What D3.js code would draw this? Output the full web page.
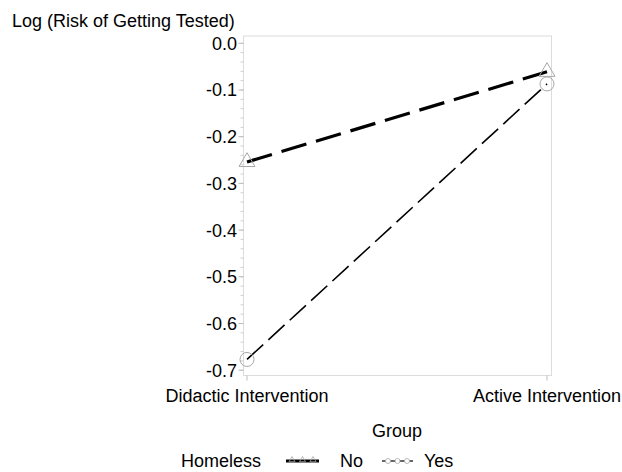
<!DOCTYPE html>
<html>
<head>
<meta charset="utf-8">
<script src="https://cdn.jsdelivr.net/npm/d3@7"></script>
<style>
  html, body { margin: 0; padding: 0; background: #fff; }
  svg { display: block; font-family: "Liberation Sans", Arial, sans-serif; }
</style>
</head>
<body>
<svg id="chart" width="622" height="472"></svg>
<script>
// Group categories on the x axis
const groups = ["Didactic Intervention", "Active Intervention"];
// Log risk of getting tested, by homeless status
const homelessNo = [-0.254, -0.061];
const homelessYes = [-0.677, -0.087];
// Y axis tick labels
const yTicks = [0.0, -0.1, -0.2, -0.3, -0.4, -0.5, -0.6, -0.7];

const svg = d3.select("#chart");
const frame = { left: 243.5, right: 551.5, top: 36, bottom: 375.5 };
const fs = 18;

const x = d3.scalePoint().domain(groups).range([247, 547]);
const y = d3.scaleLinear().domain([0, -0.7]).range([43.3, 370.2]);

// plot frame
svg.append("rect")
  .attr("x", frame.left).attr("y", frame.top)
  .attr("width", frame.right - frame.left).attr("height", frame.bottom - frame.top)
  .attr("fill", "none").attr("stroke", "#dcdcdc").attr("stroke-width", 1);

// y axis: major ticks with labels, minor ticks every 0.02
const yAxis = svg.append("g").attr("transform", `translate(${frame.left},0)`);
const minor = d3.range(0, 36).map(i => -i * 0.02).filter(v => v >= -0.7 - 1e-9);
yAxis.selectAll("line.minor").data(minor).join("line")
  .attr("class", "minor")
  .attr("x1", -3).attr("x2", 0)
  .attr("y1", d => y(d)).attr("y2", d => y(d))
  .attr("stroke", "#d0d0d0").attr("stroke-width", 1);
yAxis.selectAll("line.major").data(yTicks).join("line")
  .attr("class", "major")
  .attr("x1", -5).attr("x2", 0)
  .attr("y1", d => y(d)).attr("y2", d => y(d))
  .attr("stroke", "#bdbdbd").attr("stroke-width", 1);
yAxis.selectAll("text").data(yTicks).join("text")
  .attr("x", -6.5).attr("y", d => y(d))
  .attr("dy", "0.36em")
  .attr("text-anchor", "end")
  .attr("font-size", fs)
  .attr("fill", "#000")
  .text(d => d === 0 ? "0.0" : "-" + Math.abs(d).toFixed(1));

// x axis ticks and labels
const xAxis = svg.append("g").attr("transform", `translate(0,${frame.bottom})`);
xAxis.selectAll("line").data(groups).join("line")
  .attr("x1", d => x(d)).attr("x2", d => x(d))
  .attr("y1", 0).attr("y2", 5)
  .attr("stroke", "#bdbdbd");
xAxis.selectAll("text").data(groups).join("text")
  .attr("x", d => x(d)).attr("y", 26.5)
  .attr("text-anchor", "middle")
  .attr("font-size", fs)
  .text(d => d);

// axis titles
svg.append("text").attr("x", 12).attr("y", 27)
  .attr("font-size", fs).text("Log (Risk of Getting Tested)");
svg.append("text").attr("x", 397).attr("y", 437)
  .attr("text-anchor", "middle").attr("font-size", fs).text("Group");

// series lines
const line = d3.line().x((d, i) => x(groups[i])).y(d => y(d));
svg.append("path").datum(homelessYes).attr("d", line)
  .attr("fill", "none").attr("stroke", "#000").attr("stroke-width", 1.6)
  .attr("stroke-dasharray", "22,7");
svg.append("path").datum(homelessNo).attr("d", line)
  .attr("fill", "none").attr("stroke", "#000").attr("stroke-width", 3.2)
  .attr("stroke-dasharray", "26,10");

// markers
const tri = d3.symbol().type(d3.symbolTriangle).size(110);
svg.selectAll("path.tri").data(homelessNo).join("path")
  .attr("class", "tri")
  .attr("d", tri)
  .attr("transform", (d, i) => `translate(${x(groups[i])},${y(d)})`)
  .attr("fill", "none").attr("stroke", "#a8a8a8").attr("stroke-width", 1);
svg.selectAll("circle.pt").data(homelessYes).join("circle")
  .attr("class", "pt")
  .attr("cx", (d, i) => x(groups[i])).attr("cy", d => y(d)).attr("r", 7)
  .attr("fill", "none").attr("stroke", "#a8a8a8").attr("stroke-width", 1);

// legend
const lg = svg.append("g").attr("transform", "translate(0,461)");
lg.append("text").attr("x", 181).attr("y", 0).attr("dy", "0.36em")
  .attr("font-size", fs).text("Homeless");
function legendItem(x0, w, sw, marker, label, lx) {
  const g = lg.append("g");
  g.append("line").attr("x1", x0).attr("x2", x0 + w).attr("y1", 0).attr("y2", 0)
    .attr("stroke", "#000").attr("stroke-width", sw);
  [x0 + 6, x0 + w / 2, x0 + w - 6].forEach(cx => {
    if (marker === "tri") {
      g.append("path").attr("d", d3.symbol().type(d3.symbolTriangle).size(16)())
        .attr("transform", `translate(${cx},-1)`)
        .attr("fill", "none").attr("stroke", "#a8a8a8").attr("stroke-width", 0.8);
    } else {
      g.append("circle").attr("cx", cx).attr("cy", 0).attr("r", 2.5)
        .attr("fill", "#fff").attr("stroke", "#a8a8a8").attr("stroke-width", 0.8);
    }
  });
  g.append("text").attr("x", lx).attr("y", 0).attr("dy", "0.36em")
    .attr("font-size", fs).text(label);
}
legendItem(286, 33, 3, "tri", "No", 340);
legendItem(382, 31, 1.2, "circ", "Yes", 424);
</script>
</body>
</html>
